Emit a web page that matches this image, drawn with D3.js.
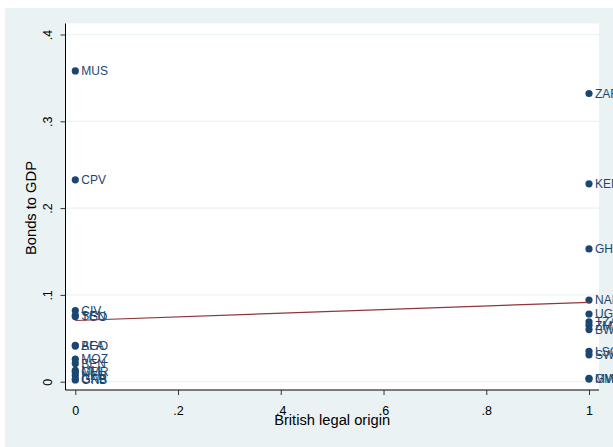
<!DOCTYPE html>
<html><head><meta charset="utf-8">
<script src="https://cdn.jsdelivr.net/npm/d3@7"></script>
<style>body{margin:0;background:#fff}svg{display:block}text{font-family:"Liberation Sans",Arial,sans-serif}</style>
</head><body><svg id="c" width="613" height="447"></svg>
<script>
const countries = ["MUS","CPV","CIV","SEN","TGO","AGO","BFA","MOZ","BEN","MLI","CMR","NER","GAB","GNB",
                   "ZAF","KEN","GHA","NAM","UGA","TZA","ZMB","BWA","LSO","SWZ","GMB","MWI"];
const britishLegal = [0,0,0,0,0,0,0,0,0,0,0,0,0,0, 1,1,1,1,1,1,1,1,1,1,1,1];
const bondsToGDP = [0.358,0.2326,0.082,0.0765,0.075,0.042,0.041,0.026,0.021,0.013,0.011,0.007,0.003,0.002,
                    0.332,0.228,0.153,0.094,0.078,0.069,0.065,0.060,0.035,0.031,0.004,0.003];
const fitX = [0, 1];
const fitY = [0.0705, 0.0915];
const xTicks = [0, 0.2, 0.4, 0.6, 0.8, 1];
const xTickLabels = ["0", ".2", ".4", ".6", ".8", "1"];
const yTicks = [0, 0.1, 0.2, 0.3, 0.4];
const yTickLabels = ["0", ".1", ".2", ".3", ".4"];

const svg = d3.select("#c");
const bg = "#eaf2f3", navy = "#1a476f", maroon = "#90353b";
svg.append("rect").attr("x",5).attr("y",8).attr("width",608).attr("height",439).attr("fill",bg);
const L=65.5, R=599, T=23.5, B=390;
svg.append("rect").attr("x",L).attr("y",T).attr("width",R-L).attr("height",B-T).attr("fill","#fff");

const x = d3.scaleLinear().domain([0,1]).range([75.3,589]);
const y = d3.scaleLinear().domain([0,0.4]).range([381.7,34.5]);

// gridlines
svg.append("g").selectAll("line").data(yTicks).join("line")
  .attr("x1",L).attr("x2",R).attr("y1",d=>y(d)).attr("y2",d=>y(d))
  .attr("stroke",bg).attr("stroke-width",1.2);

const plot = svg.append("g");
const pts = countries.map((c,i)=>({c, x:britishLegal[i], y:bondsToGDP[i]}));
plot.selectAll("circle").data(pts).join("circle")
  .attr("cx",d=>x(d.x)).attr("cy",d=>y(d.y)).attr("r",3.6).attr("fill",navy);
plot.selectAll("text.lab").data(pts).join("text").attr("class","lab")
  .attr("x",d=>x(d.x)+6).attr("y",d=>y(d.y)).attr("dy","0.36em")
  .attr("font-size",12).attr("fill",navy).text(d=>d.c);

plot.append("path").datum(fitX.map((v,i)=>[v,fitY[i]]))
  .attr("d",d3.line().x(d=>x(d[0])).y(d=>y(d[1])))
  .attr("fill","none").attr("stroke",maroon).attr("stroke-width",1.2);

// axes
const yAxis = d3.axisLeft(y).tickValues(yTicks).tickFormat((d,i)=>yTickLabels[i]).tickSize(5);
const ga = svg.append("g").attr("transform",`translate(${L},0)`).call(yAxis);
ga.select(".domain").attr("d",`M0,${T}V${B}`).attr("stroke","#000");
ga.selectAll(".tick line").attr("stroke","#333");
ga.selectAll(".tick text").attr("font-size",12.5).attr("fill","#000")
  .attr("font-family","Liberation Sans, Arial, sans-serif")
  .attr("text-anchor","middle").attr("x",0).attr("y",0).attr("dy",0)
  .attr("transform","translate(-14,0)rotate(-90)");

const xAxis = d3.axisBottom(x).tickValues(xTicks).tickFormat((d,i)=>xTickLabels[i]).tickSize(5).tickPadding(11);
const gx = svg.append("g").attr("transform",`translate(0,${B})`).call(xAxis);
gx.select(".domain").attr("d",`M${L},0H${R}`).attr("stroke","#000");
gx.selectAll(".tick line").attr("stroke","#333");
gx.selectAll(".tick text").attr("font-size",12.5).attr("fill","#000").attr("font-family","Liberation Sans, Arial, sans-serif");

svg.append("text").attr("x",(75.3+589)/2).attr("y",425).attr("text-anchor","middle")
  .attr("font-size",14.7).attr("fill","#000").text("British legal origin");
svg.append("text").attr("transform","translate(36,208)rotate(-90)").attr("text-anchor","middle")
  .attr("font-size",14.7).attr("fill","#000").text("Bonds to GDP");
</script></body></html>
